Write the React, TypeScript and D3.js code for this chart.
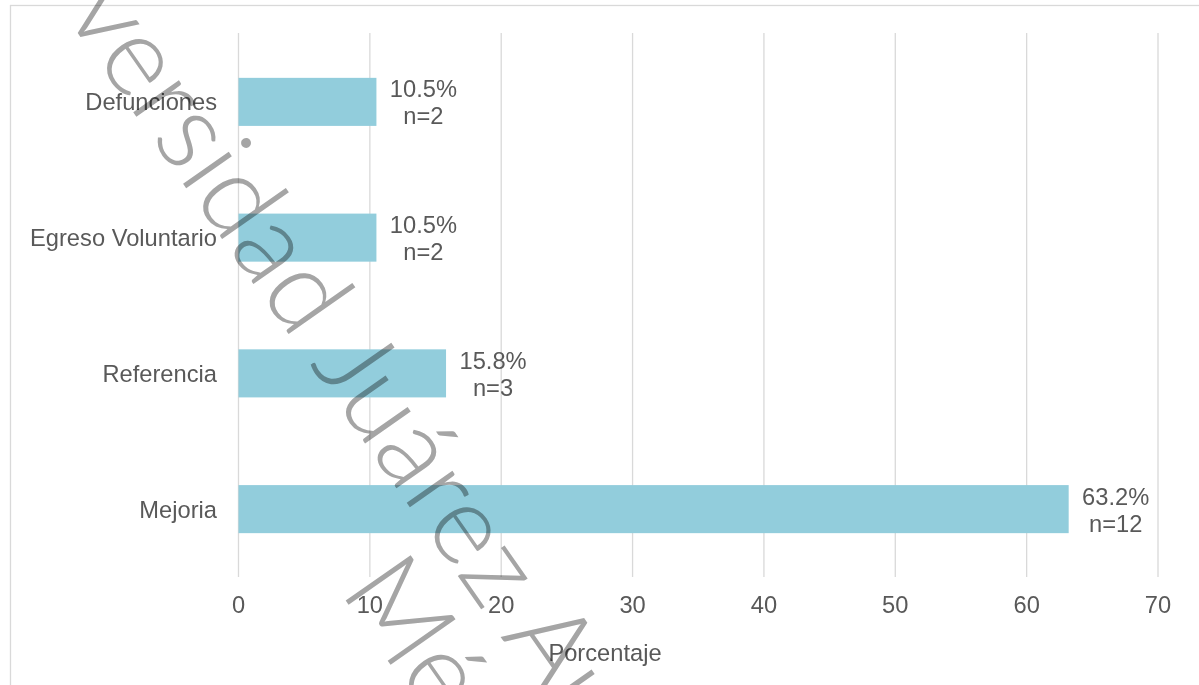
import React from "react";
import * as d3 from "d3";

const categories = ["Defunciones", "Egreso Voluntario", "Referencia", "Mejoria"];
const percentages = [10.5, 10.5, 15.8, 63.2];
const counts = [2, 2, 3, 12];
const xTicks = [0, 10, 20, 30, 40, 50, 60, 70];
const axisTitle = "Porcentaje";
const watermarkLine1Pre = "Uni";
const watermarkLine1 = "versidad Juárez Autónoma de Tabasco";
const watermarkLine2 = "México";

const W = 1199;
const H = 685;
const TEXT = "#595959";
const GRID = "#d9d9d9";
const BAR = "#92CDDC";
const FONT = "'Liberation Sans', Arial, sans-serif";

export default function App() {
  const x = d3.scaleLinear().domain([0, 70]).range([238.5, 1158]);
  const y = d3
    .scaleBand<string>()
    .domain(categories)
    .range([34, 577])
    .paddingInner(0.646)
    .paddingOuter(0.323);

  const wmSize = 112;
  const angle = 55;

  return (
    <svg
      width={W}
      height={H}
      style={{ position: "absolute", left: 0, top: 0, display: "block" }}
      fontFamily={FONT}
    >
      <rect x={0} y={0} width={W} height={H} fill="#fff" />
      <rect x={10.5} y={5.5} width={1200} height={700} fill="none" stroke={GRID} strokeWidth={1.3} />

      {xTicks.map((t) => (
        <line key={"g" + t} x1={x(t)} x2={x(t)} y1={33} y2={577} stroke={GRID} strokeWidth={1.3} />
      ))}

      {categories.map((c, i) => (
        <rect
          key={"b" + c}
          x={x(0)}
          y={y(c)}
          width={x(percentages[i]) - x(0)}
          height={y.bandwidth()}
          fill={BAR}
        />
      ))}

      {categories.map((c) => (
        <text
          key={"c" + c}
          x={217}
          y={(y(c) as number) + y.bandwidth() / 2 + 8.4}
          textAnchor="end"
          fontSize={23.7}
          fill={TEXT}
        >
          {c}
        </text>
      ))}

      {categories.map((c, i) => {
        const cy = (y(c) as number) + y.bandwidth() / 2;
        const lx = x(percentages[i]) + 47;
        return (
          <g key={"l" + c} fontSize={23.7} fill={TEXT} textAnchor="middle">
            <text x={lx} y={cy - 4.5}>{percentages[i].toFixed(1) + "%"}</text>
            <text x={lx} y={cy + 22.5}>{"n=" + counts[i]}</text>
          </g>
        );
      })}

      {xTicks.map((t) => (
        <text key={"t" + t} x={x(t)} y={612.5} textAnchor="middle" fontSize={23.7} fill={TEXT}>
          {t}
        </text>
      ))}

      <text x={605} y={660.5} textAnchor="middle" fontSize={23.7} fill={TEXT}>
        {axisTitle}
      </text>

      <g style={{ mixBlendMode: "multiply" }} fill="#a5a5a5" fontSize={wmSize} fontFamily="Lato, sans-serif" fontWeight={300}>
        <g transform={`translate(63,12) rotate(${angle})`}>
          <text x={-10} y={0} textAnchor="end">{watermarkLine1Pre}</text>
          <text x={0} y={0}>{watermarkLine1}</text>
        </g>
        <g transform={`translate(339.1,590.9) rotate(${angle})`}>
          <text x={0} y={0}>{watermarkLine2}</text>
        </g>
      </g>
    </svg>
  );
}
